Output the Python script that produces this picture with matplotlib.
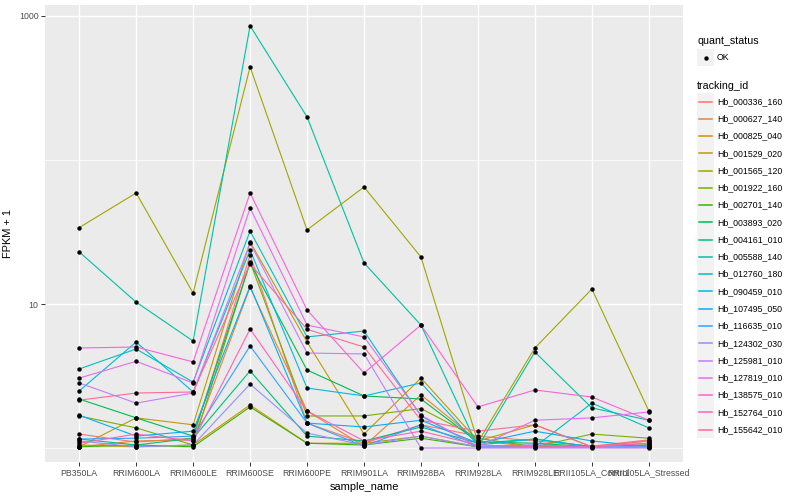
import math
import matplotlib
matplotlib.use("Agg")
import matplotlib.pyplot as plt
from matplotlib.patches import Rectangle

plt.rcParams['font.family'] = ['Liberation Sans', 'DejaVu Sans']

# samples on the x axis
sample_names = ["PB350LA", "RRIM600LA", "RRIM600LE", "RRIM600SE", "RRIM600PE",
                "RRIM901LA", "RRIM928BA", "RRIM928LA", "RRIM928LE",
                "RRII105LA_Control", "RRII105LA_Stressed"]

tracking_ids = ["Hb_000336_160", "Hb_000627_140", "Hb_000825_040", "Hb_001529_020",
                "Hb_001565_120", "Hb_001922_160", "Hb_002701_140", "Hb_003893_020",
                "Hb_004161_010", "Hb_005588_140", "Hb_012760_180", "Hb_090459_010",
                "Hb_107495_050", "Hb_116635_010", "Hb_124302_030", "Hb_125981_010",
                "Hb_127819_010", "Hb_138575_010", "Hb_152764_010", "Hb_155642_010"]

# FPKM + 1, one list per gene, in sample order
hb_000336_160 = [1.25, 1.10, 1.17, 21.9, 1.49, 1.08, 1.45, 1.21, 1.12, 1.03, 1.14]
hb_000627_140 = [1.02, 1.12, 1.14, 13.1, 1.81, 1.03, 2.34, 1.12, 1.02, 1.02, 1.12]
hb_000825_040 = [1.05, 1.02, 1.05, 1.99, 1.08, 1.08, 1.21, 1.02, 1.02, 1.02, 1.05]
hb_001529_020 = [1.02, 1.62, 1.45, 27.0, 5.45, 1.25, 3.06, 1.12, 1.45, 1.02, 1.08]
hb_001565_120 = [33.9, 59.0, 11.9, 443, 32.7, 64.9, 21.2, 1.10, 4.95, 12.7, 1.81]
hb_001922_160 = [1.67, 1.38, 1.05, 19.6, 1.67, 1.67, 1.88, 1.17, 1.02, 1.25, 1.17]
hb_002701_140 = [1.02, 1.05, 1.02, 1.93, 1.08, 1.05, 1.17, 1.02, 1.02, 1.02, 1.02]
hb_003893_020 = [2.19, 1.62, 1.21, 19.3, 3.48, 2.30, 2.19, 1.10, 1.08, 1.02, 1.05]
hb_004161_010 = [1.155, 1.05, 1.17, 3.43, 1.21, 1.12, 1.40, 1.08, 1.155, 1.02, 1.02]
hb_005588_140 = [23.0, 10.3, 5.53, 853, 199, 19.3, 7.14, 1.02, 4.64, 1.90, 1.56]
hb_012760_180 = [3.54, 4.87, 2.87, 32.1, 5.91, 6.49, 1.67, 1.02, 1.02, 2.05, 1.38]
hb_090459_010 = [2.49, 5.45, 2.45, 23.7, 2.61, 2.30, 2.83, 1.05, 1.155, 1.02, 1.02]
hb_107495_050 = [1.69, 1.21, 1.31, 13.3, 1.49, 1.40, 1.56, 1.08, 1.31, 1.12, 1.02]
hb_116635_010 = [1.155, 1.17, 1.21, 5.11, 1.49, 1.03, 1.45, 1.02, 1.05, 1.02, 1.02]
hb_124302_030 = [1.12, 1.02, 1.05, 2.78, 1.27, 1.05, 1.21, 1.02, 1.05, 1.02, 1.02]
hb_125981_010 = [2.83, 2.05, 2.41, 26.5, 4.57, 4.50, 1.0, 1.0, 1.0, 1.0, 1.0]
hb_127819_010 = [3.06, 4.0, 2.83, 46.4, 7.14, 5.91, 1.69, 1.02, 1.56, 1.62, 1.78]
hb_138575_010 = [4.95, 5.03, 3.96, 59.0, 9.09, 3.32, 7.14, 1.93, 2.53, 2.26, 1.56]
hb_152764_010 = [1.08, 1.25, 1.12, 6.70, 1.81, 1.12, 1.31, 1.05, 1.02, 1.02, 1.08]
hb_155642_010 = [2.15, 2.41, 2.45, 19.0, 6.67, 5.03, 1.56, 1.31, 1.45, 1.02, 1.12]

series = [hb_000336_160, hb_000627_140, hb_000825_040, hb_001529_020, hb_001565_120,
          hb_001922_160, hb_002701_140, hb_003893_020, hb_004161_010, hb_005588_140,
          hb_012760_180, hb_090459_010, hb_107495_050, hb_116635_010, hb_124302_030,
          hb_125981_010, hb_127819_010, hb_138575_010, hb_152764_010, hb_155642_010]


def hcl_hex(h, c=100, l=65):
    # polar LUV -> sRGB, same as R's hcl()
    U = c * math.cos(math.radians(h))
    V = c * math.sin(math.radians(h))
    Xn, Yn, Zn = 95.047, 100.0, 108.883
    Y = Yn * ((l + 16) / 116) ** 3
    un = 4 * Xn / (Xn + 15 * Yn + 3 * Zn)
    vn = 9 * Yn / (Xn + 15 * Yn + 3 * Zn)
    u = U / (13 * l) + un
    v = V / (13 * l) + vn
    X = 9 * Y * u / (4 * v)
    Z = -X / 3 - 5 * Y + 3 * Y / v
    X, Y, Z = X / 100, Y / 100, Z / 100
    r = 3.240479 * X - 1.537150 * Y - 0.498535 * Z
    g = -0.969256 * X + 1.875992 * Y + 0.041556 * Z
    b = 0.055648 * X - 0.204043 * Y + 1.057311 * Z

    def gam(t):
        t = 12.92 * t if t <= 0.0031308 else 1.055 * t ** (1 / 2.4) - 0.055
        return min(max(t, 0), 1)
    return '#%02X%02X%02X' % tuple(round(gam(t) * 255) for t in (r, g, b))


n = len(tracking_ids)
colors = [hcl_hex(15 + 360 * i / n) for i in range(n)]

fig = plt.figure(figsize=(8, 5), dpi=100)
fig.patch.set_facecolor('white')
ax = fig.add_axes([45 / 800, 1 - 462 / 500, 638 / 800, 457 / 500])
ax.set_facecolor('#EBEBEB')

xs = list(range(len(sample_names)))
for vals, col in zip(series, colors):
    ax.plot(xs, vals, color=col, lw=0.8, zorder=3)
for vals in series:
    ax.plot(xs, vals, 'o', color='black', ms=3.2, zorder=4, mew=0)

ax.set_yscale('log')
ax.set_ylim(0.80, 1191)
ax.set_xlim(-0.6, len(sample_names) - 0.4)

ax.set_xticks(xs)
ax.set_xticklabels(sample_names)
ax.set_yticks([10, 1000])
ax.set_yticklabels(['10', '1000'])
ax.set_yticks([1, 100], minor=True)
ax.yaxis.set_minor_formatter(plt.NullFormatter())
ax.tick_params(axis='both', which='major', length=2.7, width=0.7, color='#333333',
               labelsize=6.3, labelcolor='#4D4D4D', pad=2)
ax.tick_params(axis='y', which='minor', length=0)
ax.grid(True, which='major', color='white', lw=1.0, zorder=1)
ax.grid(True, which='minor', axis='y', color='white', lw=0.55, zorder=1)
for s in ax.spines.values():
    s.set_visible(False)
ax.set_axisbelow(True)

ax.set_xlabel('sample_name', fontsize=7.9, color='black', labelpad=3)
ax.set_ylabel('FPKM + 1', fontsize=7.9, color='black', labelpad=4)

# legend drawn in pixel space
lax = fig.add_axes([0, 0, 1, 1], facecolor='none')
lax.set_xlim(0, 800)
lax.set_ylim(500, 0)
lax.axis('off')

lax.text(697, 41, 'quant_status', fontsize=7.7, va='center', ha='left')
lax.add_patch(Rectangle((697, 49), 17.3, 17.3, color='#F2F2F2', lw=0))
lax.plot([705.6], [57.6], 'o', color='black', ms=3.2, mew=0)
lax.text(717, 57.6, 'OK', fontsize=6.3, va='center', ha='left')

lax.text(697, 86, 'tracking_id', fontsize=7.7, va='center', ha='left')
for i, (name, col) in enumerate(zip(tracking_ids, colors)):
    yc = 101.5 + 17.27 * i
    lax.add_patch(Rectangle((697, yc - 8.6), 17.3, 17.3, color='#F2F2F2', lw=0,
                            zorder=1))
    lax.plot([699, 712], [yc, yc], color=col, lw=1.1, zorder=3)
    lax.text(717, yc, name, fontsize=6.3, va='center', ha='left')

fig.savefig('out.png', dpi=100)
